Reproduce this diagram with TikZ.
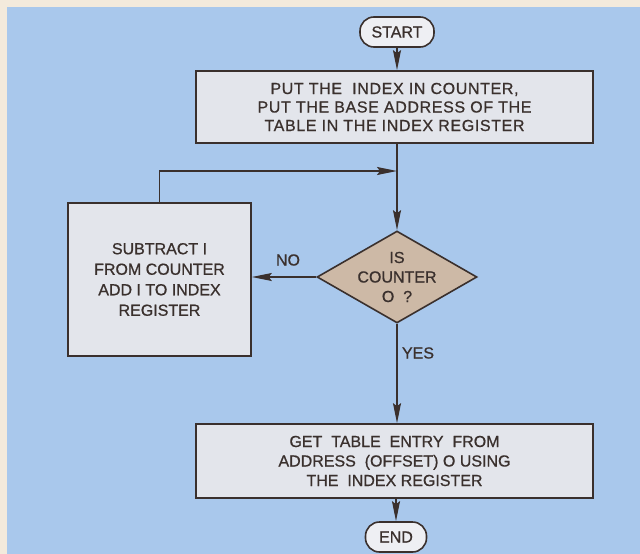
\documentclass[tikz,border=0pt]{standalone}
\usepackage{fontspec}
\setmainfont{Liberation Sans}[FakeBold=0.8]
\usetikzlibrary{positioning,arrows.meta,calc,shapes.geometric}
\definecolor{skyPaper}{HTML}{A9C8EC}
\definecolor{creamEdge}{HTML}{F3EADC}
\definecolor{boxGrey}{HTML}{E3E5EB}
\definecolor{diamondTan}{HTML}{CDB9A6}
\definecolor{inkBrown}{HTML}{3A302D}

\begin{document}
\begin{tikzpicture}[x=1pt, y=-1pt, >={Stealth[length=20pt, width=8pt, inset=3pt]},
    every node/.style={text=inkBrown, font=\fontsize{16}{18.5}\selectfont, align=center},
    flowLine/.style={draw=inkBrown, line width=1.6pt},
    procBox/.style={flowLine, fill=boxGrey, inner sep=0pt},
    termNode/.style={flowLine, fill=boxGrey!60!white, rounded corners=14pt, inner sep=0pt},
    testNode/.style={flowLine, fill=diamondTan, shape=diamond, aspect=1.74, inner sep=-6pt}]
        \useasboundingbox (0,0) rectangle (640,554);
        \fill[creamEdge] (0,0) rectangle (640,554);
        \fill[skyPaper] (7,7) rectangle (640,554);
        \node[termNode, minimum width=74pt, minimum height=30pt] (start) at (397,32) {START};
        \node[procBox, minimum width=397pt, minimum height=72pt,
              font=\fontsize{16}{18.5}\selectfont\addfontfeature{LetterSpace=4}] (put) at (394.5,107)
            {PUT THE\ \ INDEX IN COUNTER,\\PUT THE BASE ADDRESS OF THE\\TABLE IN THE INDEX REGISTER};
        \node[testNode, minimum width=160pt, minimum height=92pt,
              font=\fontsize{16}{19.5}\selectfont] (test) at (397,277)
            {IS\\COUNTER\\O\ \ ?};
        \node[procBox, minimum width=183pt, minimum height=153pt,
              font=\fontsize{16}{20.5}\selectfont] (loop) at (159.5,279.5)
            {SUBTRACT I\\FROM COUNTER\\ADD I TO INDEX\\REGISTER};
        \node[procBox, minimum width=397pt, minimum height=74pt,
              font=\fontsize{16}{19.5}\selectfont] (get) at (394.5,461)
            {GET\ \ TABLE\ \ ENTRY\ \ FROM\\ADDRESS\ \ (OFFSET)\ O\ USING\\THE\ \ INDEX REGISTER};
        \node[termNode, minimum width=61pt, minimum height=30pt] (end) at (396,537) {END};
        \node (no) at (288,260) {NO};
        \node (yes) at (418,353) {YES};
        \coordinate (join) at (397,171);
        \draw[flowLine, ->] (start.south) -- (start.south |- put.north);
        \draw[flowLine, ->] (put.south -| test.north) -- (test.north);
        \draw[flowLine, ->] (test.west) -- (test.west -| loop.east);
        \draw[flowLine, ->] (loop.north) |- (join);
        \draw[flowLine, ->] (test.south) -- (test.south |- get.north);
        \draw[flowLine, ->] (get.south -| end.north) -- (end.north);
      \end{tikzpicture}
\end{document}
